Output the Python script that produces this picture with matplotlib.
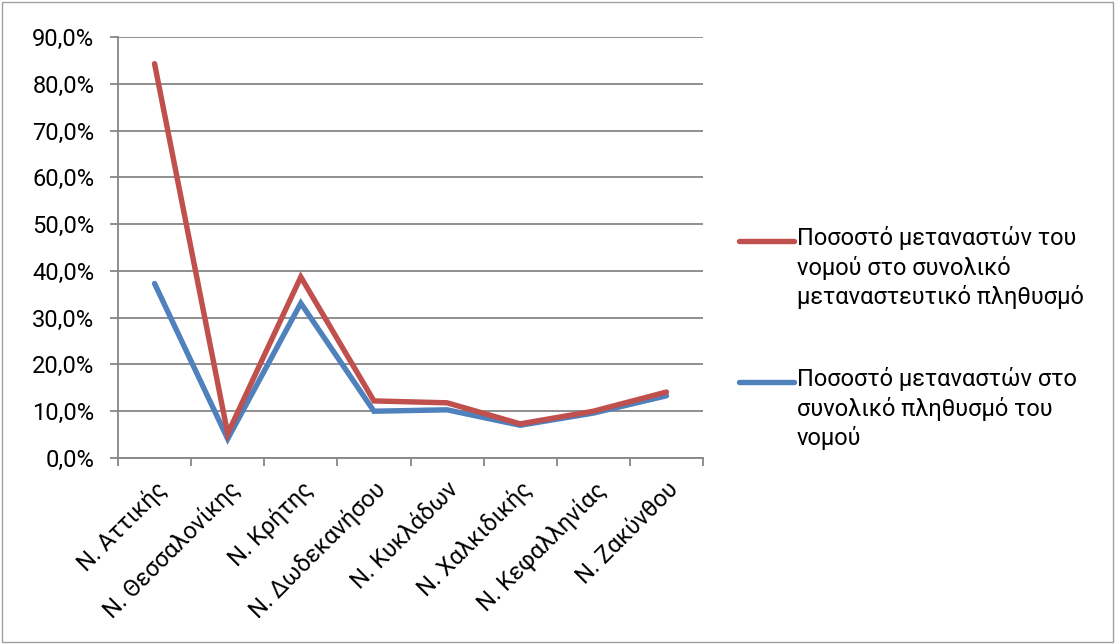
import numpy as np
import matplotlib.pyplot as plt
from matplotlib.lines import Line2D
from matplotlib.patches import Rectangle
from matplotlib.ticker import FuncFormatter

# ----------------------------
# Data
# ----------------------------
categories = ["Ν. Αττικής", "Ν. Θεσσαλονίκης", "Ν. Κρήτης", "Ν. Δωδεκανήσου",
              "Ν. Κυκλάδων", "Ν. Χαλκιδικής", "Ν. Κεφαλληνίας", "Ν. Ζακύνθου"]
share_of_migrants = [84.3, 5.2, 38.7, 12.2, 11.8, 7.3, 10.0, 14.1]
share_of_population = [37.3, 4.1, 33.1, 10.0, 10.3, 7.0, 9.6, 13.3]

label_red = "Ποσοστό μεταναστών του\nνομού στο συνολικό\nμεταναστευτικό πληθυσμό"
label_blue = "Ποσοστό μεταναστών στο\nσυνολικό πληθυσμό του\nνομού"

red = "#C0504D"
blue = "#4F81BD"
grey = "#868686"

plt.rcParams["font.family"] = ["Roboto", "DejaVu Sans"]
fs = 17

# ----------------------------
# Plot
# ----------------------------
fig = plt.figure(figsize=(11.15, 6.44), dpi=100)
ax = fig.add_axes([118 / 1115, 1 - 458 / 644, 585 / 1115, 421 / 644])

x = np.arange(len(categories))
ax.plot(x, share_of_population, color=blue, lw=3.9, solid_capstyle="round",
        solid_joinstyle="miter", zorder=3)
ax.plot(x, share_of_migrants, color=red, lw=3.9, solid_capstyle="round",
        solid_joinstyle="miter", zorder=4)

ax.set_xlim(-0.5, len(categories) - 0.5)
ax.set_ylim(0, 90)
ax.set_yticks(np.arange(0, 91, 10))
ax.yaxis.set_major_formatter(FuncFormatter(lambda v, p: f"{v:.1f}%".replace(".", ",")))
ax.grid(axis="y", color=grey, lw=1.3)
ax.set_axisbelow(True)

ax.set_xticks(x)
ax.set_xticklabels(categories, rotation=45, ha="right", rotation_mode="anchor",
                   fontsize=fs)
ax.set_xticks(np.arange(-0.5, len(categories)), minor=True)
ax.tick_params(axis="x", which="major", length=0, pad=14)
ax.tick_params(axis="x", which="minor", length=6, width=1.3, color=grey,
               direction="out")
ax.tick_params(axis="y", length=6, width=1.3, color=grey, direction="out",
               labelsize=fs, pad=11)

for s in ["top", "right"]:
    ax.spines[s].set_visible(False)
for s in ["left", "bottom"]:
    ax.spines[s].set_color(grey)
    ax.spines[s].set_linewidth(1.3)

# Legend (handles aligned with first text line)
for y0, col, lab in [(241, red, label_red), (382, blue, label_blue)]:
    yf = 1 - y0 / 644
    fig.add_artist(Line2D([739 / 1115, 794 / 1115], [yf, yf], color=col, lw=3.9,
                          solid_capstyle="round", transform=fig.transFigure))
    fig.text(797 / 1115, yf + 15 / 644, lab, fontsize=fs, va="top", ha="left",
             linespacing=1.3)

# Chart border
fig.add_artist(Rectangle((0.002, 0.003), 0.996, 0.994, transform=fig.transFigure,
                         fill=False, edgecolor="#A0A0A0", lw=1))

fig.savefig("out.png", dpi=100)
